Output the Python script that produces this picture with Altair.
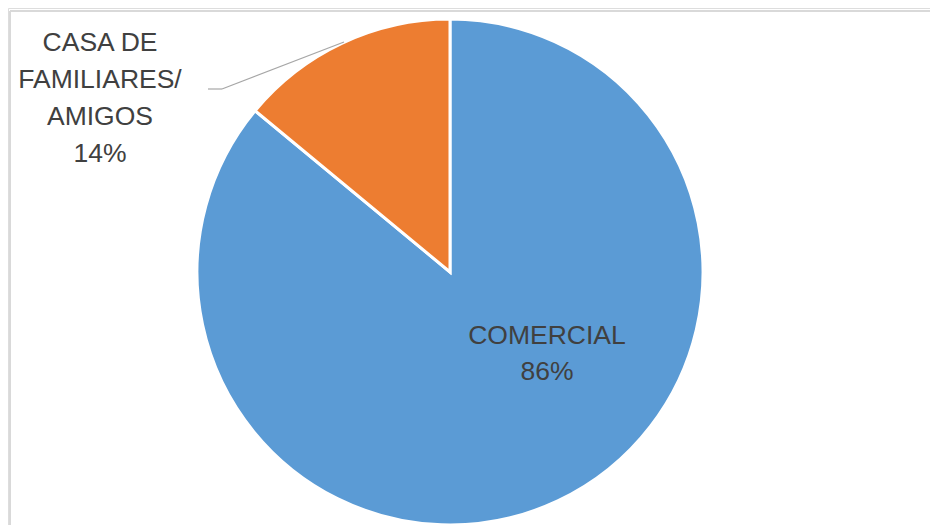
import altair as alt
import pandas as pd

categorias = ["COMERCIAL", "CASA DE FAMILIARES/ AMIGOS"]
etiquetas = ["COMERCIAL", "CASA DE\nFAMILIARES/\nAMIGOS"]
valores = [86, 14]
orden = [1, 2]
colores = ["#5B9BD5", "#ED7D31"]

df = pd.DataFrame({"categoria": categorias, "etiqueta": etiquetas, "valor": valores, "orden": orden})

W, H = 922, 517
CX, CY, R = 442, 264, 253

base = alt.Chart(df)

pie = base.mark_arc(radius=R, x=CX, y=CY, stroke="white", strokeWidth=3).encode(
    theta=alt.Theta("valor:Q", stack=True),
    order=alt.Order("orden:Q"),
    color=alt.Color("categoria:N", scale=alt.Scale(domain=categorias, range=colores), legend=None),
)

txt_props = dict(font="Liberation Sans, Arial, sans-serif", fontSize=26.5, color="#404040",
                 align="center", baseline="middle")

lab_com = base.transform_filter(alt.datum.orden == 1).transform_calculate(
    t="datum.etiqueta + '\\n' + datum.valor + '%'"
).mark_text(lineBreak="\n", lineHeight=36, **txt_props).encode(
    x=alt.value(539), y=alt.value(328), text="t:N"
)

lab_casa = base.transform_filter(alt.datum.orden == 2).transform_calculate(
    t="datum.etiqueta + '\\n' + datum.valor + '%'"
).mark_text(lineBreak="\n", lineHeight=37, **txt_props).encode(
    x=alt.value(92), y=alt.value(35), text="t:N"
)

lead1 = base.transform_filter(alt.datum.orden == 2).mark_rule(color="#A6A6A6", strokeWidth=1.2).encode(
    x=alt.value(200), x2=alt.value(214), y=alt.value(81), y2=alt.value(81)
)
lead2 = base.transform_filter(alt.datum.orden == 2).mark_rule(color="#A6A6A6", strokeWidth=1.2).encode(
    x=alt.value(214), x2=alt.value(336), y=alt.value(81), y2=alt.value(34)
)

frame_top = base.transform_filter(alt.datum.orden == 1).mark_rule(color="#D9D9D9", strokeWidth=2).encode(
    x=alt.value(2), x2=alt.value(W), y=alt.value(3), y2=alt.value(3)
)
frame_left = base.transform_filter(alt.datum.orden == 1).mark_rule(color="#D9D9D9", strokeWidth=2).encode(
    x=alt.value(2), x2=alt.value(2), y=alt.value(3), y2=alt.value(H)
)

chart = alt.layer(frame_top, frame_left, pie, lead1, lead2, lab_com, lab_casa).properties(
    width=W, height=H, padding=0, autosize=alt.AutoSizeParams(type="none")
).configure_view(stroke=None).configure(background="white")

chart.save("out.html", embed_options={"renderer": "svg", "actions": False})
